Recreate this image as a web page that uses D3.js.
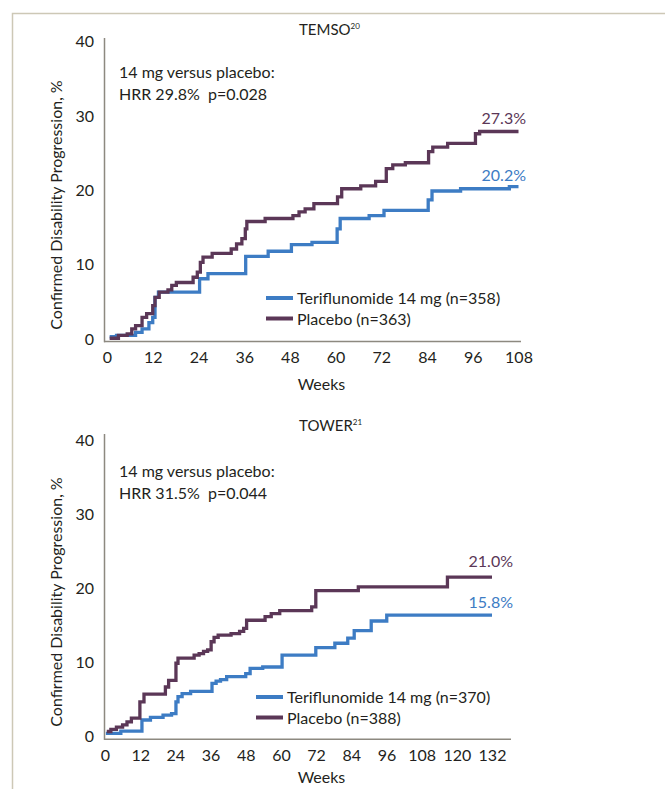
<!DOCTYPE html>
<html>
<head>
<meta charset="utf-8">
<script src="https://cdn.jsdelivr.net/npm/d3@7"></script>
<style>
  html, body { margin: 0; padding: 0; background: #fff; }
  svg { display: block; font-family: Lato, "Noto Sans", sans-serif; }
</style>
</head>
<body>
<div id="chart"></div>
<script>
// TEMSO: [week, % progressed]
const temsoTeri = [
  [0.7, 0.3], [2.5, 0.5], [7.5, 0.9], [9.2, 1.35], [11, 2.2], [12, 2.9], [12.6, 5.6], [13.5, 6.3],
  [24.3, 8.1], [26.5, 8.8], [36.4, 11.1], [42.3, 11.8], [48.4, 12.7], [53.8, 13.0],
  [60.4, 14.8], [61.2, 16.2], [68.8, 16.6], [72.7, 17.3], [84.3, 18.7], [85.3, 19.9],
  [92.8, 20.2], [105.6, 20.5], [108, 20.5]
];
const temsoPlac = [
  [0.7, 0.1], [3, 0.5], [5.3, 0.7], [6.5, 1.35], [7.5, 1.8], [9.2, 2.9], [10.4, 3.4], [12, 4.5],
  [12.6, 5.6], [13.7, 6.3], [16, 6.6], [17, 7.2], [18.2, 7.6], [22.6, 8.3], [23.7, 9.0],
  [24.5, 10.3], [25.2, 11.0], [27.6, 11.5], [32.6, 12.1], [34, 12.8], [35.4, 13.5],
  [36.3, 14.8], [36.7, 15.8], [41.5, 16.2], [48.8, 16.6], [50.4, 17.1], [52, 17.5],
  [54.3, 18.2], [60.5, 19.1], [61.6, 20.2], [66.6, 20.6], [70.5, 21.2], [73.3, 22.9],
  [75, 23.4], [78.3, 23.7], [84.4, 25.2], [85.5, 25.8], [89.4, 26.3], [96.7, 27.6],
  [97.8, 27.9], [108, 27.9]
];

// TOWER: [week, % progressed]
const towerTeri = [
  [0.3, 0.45], [5.4, 0.75], [12.6, 2.25], [15.5, 2.6], [19.8, 2.9], [22.7, 3.1], [24.2, 4.7],
  [24.9, 5.4], [26.3, 5.8], [29.2, 6.1], [36.5, 7.2], [37.9, 7.5], [39.4, 7.7], [41.5, 8.1],
  [48, 8.5], [49.5, 9.2], [53.8, 9.4], [60.4, 11.0], [71.9, 12.0], [78.4, 12.6], [82.8, 13.3],
  [85, 14.3], [90.8, 15.6], [96.1, 16.4], [132, 16.4]
];
const towerPlac = [
  [0.6, 0.7], [2, 1.0], [3.9, 1.3], [6, 1.6], [7.5, 2.0], [9, 2.5], [11.9, 4.7], [13.3, 5.75],
  [20.6, 6.7], [21.7, 7.6], [24.2, 9.9], [24.9, 10.6], [30.4, 11.0], [32.1, 11.2], [33.6, 11.5],
  [35, 11.7], [36.2, 12.8], [37.2, 13.4], [38.6, 13.7], [43, 13.9], [45.9, 14.2], [47.3, 14.6],
  [48.3, 15.7], [54.6, 16.2], [56.7, 16.6], [59.6, 17.0], [70.5, 17.5], [71.9, 19.7],
  [86.4, 20.2], [116.8, 21.5], [132, 21.5]
];

const yTicks = [0, 10, 20, 30, 40];
const temsoWeekTicks = [0, 12, 24, 36, 48, 60, 72, 84, 96, 108];
const towerWeekTicks = [0, 12, 24, 36, 48, 60, 72, 84, 96, 108, 120, 132];

const blue = "#3d7cc4";
const purple = "#5b3757";
const ink = "#231f20";
const axisGrey = "#8d8980";
const fs = 16;

const width = 665, height = 789;
const svg = d3.select("#chart").append("svg")
  .attr("width", width)
  .attr("height", height);

// outer frame
svg.append("path")
  .attr("d", "M12.5,789 V13.5 H665")
  .attr("fill", "none")
  .attr("stroke", "#cdc8b6")
  .attr("stroke-width", 1.5);

function panel(cfg) {
  const x = d3.scaleLinear().domain([0, cfg.maxWeek]).range([cfg.x0, cfg.x1]);
  const y = d3.scaleLinear().domain([0, 40]).range([cfg.y0, cfg.y40]);
  const g = svg.append("g");

  // title
  const t = g.append("text")
    .attr("x", 299).attr("y", cfg.titleY)
    .attr("font-size", 15).attr("fill", ink);
  t.append("tspan").text(cfg.title);
  t.append("tspan").attr("font-size", 8).attr("dy", -6).text(cfg.ref);

  // axes lines
  g.append("line")
    .attr("x1", 104.5).attr("x2", 104.5)
    .attr("y1", cfg.axisTop).attr("y2", cfg.axisY + 0.75)
    .attr("stroke", axisGrey).attr("stroke-width", 1.5);
  g.append("line")
    .attr("x1", 104).attr("x2", cfg.axisRight)
    .attr("y1", cfg.axisY).attr("y2", cfg.axisY)
    .attr("stroke", axisGrey).attr("stroke-width", 1.5);

  // tick labels
  g.append("g")
    .attr("transform", "translate(104.5,0)")
    .call(d3.axisLeft(y).tickValues(yTicks).tickSize(0).tickPadding(10.5))
    .call(a => a.select(".domain").remove());
  g.append("g")
    .attr("transform", `translate(0,${cfg.axisY})`)
    .call(d3.axisBottom(x).tickValues(cfg.weekTicks).tickSize(0).tickPadding(10))
    .call(a => a.select(".domain").remove());
  g.selectAll(".tick text")
    .attr("fill", ink).attr("font-size", fs)
    .attr("font-family", "Lato, 'Noto Sans', sans-serif");

  // axis titles
  g.append("text")
    .attr("transform", `translate(62,${cfg.yTitleY}) rotate(-90)`)
    .attr("text-anchor", "middle")
    .attr("font-size", fs).attr("fill", ink)
    .text("Confirmed Disability Progression, %");
  g.append("text")
    .attr("x", 321.5).attr("y", cfg.weeksY)
    .attr("text-anchor", "middle")
    .attr("font-size", fs).attr("fill", ink)
    .text("Weeks");

  // annotation
  g.append("text").attr("x", 119).attr("y", cfg.noteY)
    .attr("font-size", fs).attr("fill", ink)
    .text("14 mg versus placebo:");
  g.append("text").attr("x", 119).attr("y", cfg.noteY + 22)
    .attr("font-size", fs).attr("fill", ink)
    .attr("xml:space", "preserve")
    .text(cfg.hrr);

  // curves
  const line = d3.line()
    .x(d => x(d[0]))
    .y(d => y(d[1]))
    .curve(d3.curveStepAfter);
  g.append("path").datum(cfg.teri)
    .attr("d", line).attr("fill", "none")
    .attr("stroke", blue).attr("stroke-width", 3.3);
  g.append("path").datum(cfg.plac)
    .attr("d", line).attr("fill", "none")
    .attr("stroke", purple).attr("stroke-width", 3.3);

  // end labels
  g.append("text").attr("x", cfg.labelX).attr("y", cfg.placLabelY)
    .attr("text-anchor", "end").attr("font-size", fs).attr("fill", purple)
    .text(cfg.placEnd);
  g.append("text").attr("x", cfg.labelX).attr("y", cfg.teriLabelY)
    .attr("text-anchor", "end").attr("font-size", fs).attr("fill", blue)
    .text(cfg.teriEnd);

  // legend
  const legend = [
    { label: cfg.teriName, color: blue, dy: 0 },
    { label: cfg.placName, color: purple, dy: 20.5 }
  ];
  legend.forEach(l => {
    g.append("line")
      .attr("x1", cfg.legX).attr("x2", cfg.legX + 27)
      .attr("y1", cfg.legY + l.dy).attr("y2", cfg.legY + l.dy)
      .attr("stroke", l.color).attr("stroke-width", 4);
    g.append("text")
      .attr("x", cfg.legX + 31).attr("y", cfg.legY + l.dy + 6)
      .attr("font-size", fs).attr("fill", ink)
      .text(l.label);
  });
}

panel({
  title: "TEMSO", ref: "20", titleY: 35,
  maxWeek: 108, x0: 107, x1: 518.5, y0: 339, y40: 41.5,
  axisTop: 38, axisY: 341.5, axisRight: 521,
  weekTicks: temsoWeekTicks, yTitleY: 205, weeksY: 390,
  noteY: 78, hrr: "HRR 29.8%  p=0.028",
  teri: temsoTeri, plac: temsoPlac,
  labelX: 526, placLabelY: 124, teriLabelY: 181,
  placEnd: "27.3%", teriEnd: "20.2%",
  legX: 266, legY: 298,
  teriName: "Teriflunomide 14 mg (n=358)", placName: "Placebo (n=363)"
});

panel({
  title: "TOWER", ref: "21", titleY: 431,
  maxWeek: 132, x0: 105, x1: 492, y0: 736.7, y40: 440,
  axisTop: 434, axisY: 739.3, axisRight: 511,
  weekTicks: towerWeekTicks, yTitleY: 602, weeksY: 783,
  noteY: 477, hrr: "HRR 31.5%  p=0.044",
  teri: towerTeri, plac: towerPlac,
  labelX: 513, placLabelY: 567, teriLabelY: 608,
  placEnd: "21.0%", teriEnd: "15.8%",
  legX: 256, legY: 697,
  teriName: "Teriflunomide 14 mg (n=370)", placName: "Placebo (n=388)"
});
</script>
</body>
</html>
